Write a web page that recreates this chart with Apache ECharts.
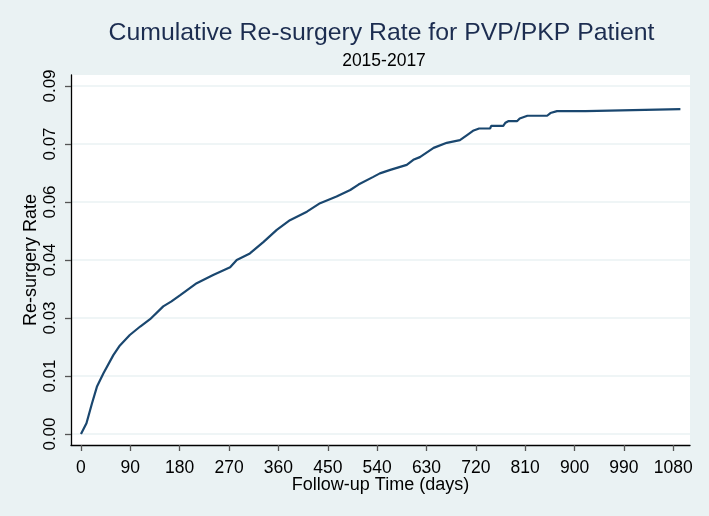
<!DOCTYPE html>
<html>
<head>
<meta charset="utf-8">
<script src="https://cdn.jsdelivr.net/npm/echarts@6/dist/echarts.min.js"></script>
<style>
  html, body { margin: 0; padding: 0; background: #eaf2f3; }
  #chart { width: 709px; height: 516px; }
</style>
</head>
<body>
<div id="chart"></div>
<script>
const titleText = 'Cumulative Re-surgery Rate for PVP/PKP Patient';
const subtitleText = '2015-2017';
const xAxisName = 'Follow-up Time (days)';
const yAxisName = 'Re-surgery Rate';

const xTicks = [0, 90, 180, 270, 360, 450, 540, 630, 720, 810, 900, 990, 1080];
const yTicks = [0, 0.015, 0.03, 0.045, 0.06, 0.075, 0.09];
const yTickLabels = ['0.00', '0.01', '0.03', '0.04', '0.06', '0.07', '0.09'];

const days = [0,3,10,20,29,41,59,71,89,108,126,150,165,181,211,241,272,284,308,333,357,381,412,436,466,491,506,533,545,564,594,606,618,643,667,691,704,716,726,746,748,770,774,779,795,800,814,850,856,868,920,920,1093];
const rate = [0,0.0005,0.0028,0.0079,0.0122,0.0157,0.0204,0.0229,0.0256,0.0278,0.0297,0.0330,0.0343,0.0359,0.0390,0.0411,0.0431,0.0450,0.0467,0.0497,0.0528,0.0553,0.0575,0.0597,0.0614,0.0631,0.0645,0.0665,0.0674,0.0683,0.0696,0.0709,0.0716,0.0740,0.0753,0.0760,0.0773,0.0785,0.0790,0.0790,0.0797,0.0797,0.0805,0.0809,0.0809,0.0816,0.0823,0.0823,0.0830,0.0835,0.0835,0.0840,0.0840];

const seriesData = days.map((d, i) => [d, rate[i]]);

const chart = echarts.init(document.getElementById('chart'), null, { renderer: 'canvas' });
const font = '"Liberation Sans", Arial, Helvetica, sans-serif';

chart.setOption({
  backgroundColor: '#eaf2f3',
  animation: false,
  textStyle: { fontFamily: font },
  title: [
    {
      text: titleText,
      left: 381.5, top: 21, textAlign: 'center', padding: 0,
      textStyle: { fontFamily: font, fontSize: 24.8, fontWeight: 'normal', color: '#1c2d50' }
    },
    {
      text: subtitleText,
      left: 384, top: 52.5, textAlign: 'center', padding: 0,
      textStyle: { fontFamily: font, fontSize: 17.5, fontWeight: 'normal', color: '#000' }
    }
  ],
  grid: {
    left: 71, top: 75, width: 619, height: 370,
    show: true, backgroundColor: '#ffffff', borderWidth: 0,
    containLabel: false
  },
  xAxis: {
    type: 'value',
    min: -18.2, max: 1110.5,
    name: xAxisName,
    nameLocation: 'middle',
    nameGap: 31.5,
    nameMoveOverlap: false,
    nameTextStyle: { fontFamily: font, fontSize: 18, color: '#000' },
    axisLine: { show: true, onZero: false, lineStyle: { color: '#000', width: 1.3 } },
    axisTick: { show: true, length: 6, customValues: xTicks, lineStyle: { color: '#555', width: 1.3 } },
    axisLabel: {
      customValues: xTicks, margin: 14, fontSize: 17.5, color: '#000', fontFamily: font,
      formatter: function (v) { return String(v); }
    },
    splitLine: { show: false }
  },
  yAxis: {
    type: 'value',
    min: -0.00284, max: 0.09284,
    name: yAxisName,
    nameLocation: 'middle',
    nameGap: 31,
    nameMoveOverlap: false,
    nameTextStyle: { fontFamily: font, fontSize: 18, color: '#000' },
    axisLine: { show: true, onZero: false, lineStyle: { color: '#000', width: 1.3 } },
    axisTick: { show: true, length: 6, customValues: yTicks, lineStyle: { color: '#555', width: 1.3 } },
    axisLabel: {
      customValues: yTicks, rotate: 90, margin: 12, fontSize: 17, color: '#000', fontFamily: font,
      formatter: function (v) {
        const i = yTicks.findIndex(t => Math.abs(t - v) < 1e-9);
        return i >= 0 ? yTickLabels[i] : '';
      }
    },
    splitLine: { show: true, customValues: yTicks, lineStyle: { color: '#eaf2f3', width: 1.5 } }
  },
  series: [{
    type: 'line',
    data: seriesData,
    showSymbol: false,
    symbol: 'none',
    smooth: false,
    lineStyle: { color: '#1a476f', width: 2.2 },
    z: 3
  }]
});
</script>
</body>
</html>
